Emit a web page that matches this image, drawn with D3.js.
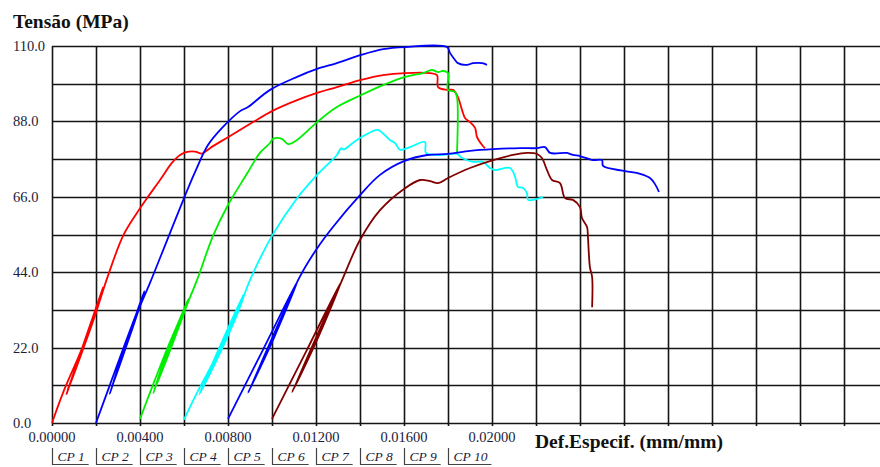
<!DOCTYPE html>
<html>
<head>
<meta charset="utf-8">
<script src="https://cdn.jsdelivr.net/npm/d3@7"></script>
<style>
  html, body { margin: 0; padding: 0; background: #fff; }
  svg { display: block; }
</style>
</head>
<body>
<svg id="chart" width="880" height="467"></svg>
<script>
// ---------- DATA (strain mm/mm, stress MPa) ----------
const legendLabels = ["CP 1", "CP 2", "CP 3", "CP 4", "CP 5", "CP 6", "CP 7", "CP 8", "CP 9", "CP 10"];
const xTickValues = [0, 0.004, 0.008, 0.012, 0.016, 0.020];
const xTickLabels = ["0.00000", "0.00400", "0.00800", "0.01200", "0.01600", "0.02000"];
const yTickValues = [0, 22, 44, 66, 88, 110];
const yTickLabels = ["0.0", "22.0", "44.0", "66.0", "88.0", "110.0"];
const seriesColors = ["#ff0000", "#0000ff", "#00ee00", "#00ffff", "#0000ff", "#800000"];

const cp1 = [
  [0, 0], [0.0005, 8.8], [0.00135, 21.6], [0.00195, 32.4], [0.00232, 39.5],
  [0.00066, 8.4], [0.0014, 21.3], [0.002, 32.2], [0.00234, 39.2],
  [0.0007, 9.5], [0.00142, 22.0], [0.00202, 32.8], [0.00218, 35.9], [0.00252, 42.5],
  [0.00323, 54.6], [0.00386, 61.3], [0.00432, 65.6], [0.00491, 70.9], [0.00545, 75.9],
  [0.00582, 78.2], [0.00614, 79.1], [0.0065, 79.2], [0.0068, 78.6], [0.00695, 79.1],
  [0.00718, 80.2], [0.008, 83.4], [0.00914, 87.8], [0.01, 91.0], [0.01114, 94.2],
  [0.01205, 96.3], [0.01295, 98.0], [0.01405, 100.1], [0.01505, 101.5], [0.01605, 102.1],
  [0.01718, 102.1], [0.0175, 101.5], [0.01755, 98.0], [0.01795, 97.2], [0.01823, 97.2],
  [0.01845, 95.1], [0.01864, 91.3], [0.01877, 89.0], [0.019, 87.8], [0.01923, 86.1],
  [0.01932, 83.4], [0.01955, 81.1], [0.01968, 80.2]
];
const cp2 = [
  [0.002, 0], [0.0025, 8.8], [0.00323, 21.6], [0.00386, 32.4], [0.0042, 38.5],
  [0.00262, 8.4], [0.00328, 21.3], [0.0039, 32.3], [0.00422, 38.2],
  [0.00268, 9.5], [0.0033, 22.0], [0.00392, 32.8], [0.00445, 40.8],
  [0.00523, 53.3], [0.006, 65.6], [0.0065, 73.2], [0.00709, 81.1], [0.00773, 86.1],
  [0.00855, 91.0], [0.00891, 92.2], [0.00991, 97.2],
  [0.01114, 101.0], [0.01205, 103.3], [0.01295, 105.0], [0.01405, 107.4], [0.01505, 109.1],
  [0.01605, 109.7], [0.01795, 109.7], [0.01809, 108.0], [0.01832, 105.9], [0.01845, 105.0],
  [0.01886, 104.5], [0.01914, 105.0], [0.01955, 105.0], [0.01977, 104.5]
];
const cp3 = [
  [0.004, 1.2], [0.00445, 8.8], [0.00523, 21.6], [0.00595, 32.4], [0.0062, 36.2],
  [0.0046, 8.6], [0.00528, 21.3], [0.006, 32.3], [0.00623, 35.9],
  [0.00466, 9.6], [0.0053, 22.0], [0.00602, 32.8], [0.00659, 41.7],
  [0.00732, 54.6], [0.008, 63.6], [0.00886, 72.7], [0.00945, 78.8], [0.00991, 81.7],
  [0.01005, 82.9], [0.01045, 82.9], [0.01073, 81.4], [0.01114, 82.6], [0.01205, 87.8],
  [0.01295, 92.2], [0.01405, 95.7], [0.01505, 98.6], [0.01605, 101.0], [0.01686, 102.1],
  [0.01727, 103.0], [0.01755, 102.4], [0.01777, 102.7], [0.018, 102.1], [0.018, 97.2],
  [0.01832, 96.6], [0.01841, 95.1], [0.01841, 78.8]
];
const cp4 = [
  [0.006, 1.0], [0.00659, 8.8], [0.00764, 21.6], [0.00841, 32.4], [0.0087, 37.5],
  [0.0067, 8.4], [0.0077, 21.3], [0.00845, 32.3], [0.00873, 37.2],
  [0.00676, 9.5], [0.00772, 22.0], [0.00847, 32.8], [0.009, 41.7],
  [0.01, 54.6], [0.01114, 65.6], [0.01205, 72.4], [0.01295, 78.2], [0.01315, 80.2],
  [0.01325, 79.8], [0.01386, 82.6], [0.01477, 85.5], [0.01491, 85.2], [0.01536, 82.6],
  [0.01559, 81.7], [0.01582, 79.7], [0.01627, 80.5], [0.01695, 82.0], [0.017, 78.8],
  [0.01764, 78.2], [0.01841, 78.5], [0.01864, 77.3], [0.01914, 76.2], [0.01959, 76.2],
  [0.01991, 74.4], [0.02014, 73.8], [0.02082, 74.4], [0.02105, 71.8], [0.02118, 68.9],
  [0.02141, 68.6], [0.02159, 67.1], [0.02164, 65.1], [0.02205, 65.4], [0.02232, 65.9]
];
const cp5 = [
  [0.008, 1.2], [0.0096, 21.5], [0.01118, 41.7],
  [0.00891, 8.8], [0.0101, 25.0], [0.0112, 41.9],
  [0.00897, 9.6], [0.01013, 25.6], [0.01122, 42.1],
  [0.012, 50.5], [0.01277, 57.2], [0.014, 66.5], [0.01491, 72.4], [0.016, 76.4],
  [0.01705, 78.2], [0.018, 78.5], [0.019, 79.4], [0.02005, 79.9], [0.02127, 80.2],
  [0.02205, 80.2], [0.02241, 80.5], [0.02264, 78.8], [0.02341, 78.8], [0.02368, 78.2],
  [0.024, 77.9], [0.02459, 76.7], [0.025, 76.7], [0.02505, 75.0], [0.02605, 73.5],
  [0.02673, 72.7], [0.02718, 71.5], [0.02741, 69.7], [0.02759, 67.4]
];
const cp6 = [
  [0.01, 1.2], [0.0116, 21.5], [0.01318, 41.7],
  [0.01091, 9.0], [0.0121, 25.0], [0.0132, 42.0],
  [0.01097, 9.8], [0.01213, 25.6], [0.01322, 42.2],
  [0.014, 53.4], [0.01491, 62.1], [0.016, 68.3], [0.01673, 70.9], [0.01718, 70.6],
  [0.01755, 70.0], [0.018, 71.5], [0.019, 74.4], [0.02005, 76.7], [0.02095, 78.2],
  [0.02159, 78.8], [0.02205, 78.5], [0.02227, 77.3], [0.0225, 73.8], [0.02273, 70.9],
  [0.02309, 70.0], [0.02332, 65.6], [0.02368, 65.1], [0.024, 63.0], [0.02409, 59.8],
  [0.02432, 57.2], [0.02436, 54.3], [0.02445, 45.5], [0.02455, 42.6], [0.02455, 33.8]
];
const seriesData = [cp1, cp2, cp3, cp4, cp5, cp6];

// ---------- LAYOUT ----------
const svg = d3.select("#chart");
const plotLeft = 52, plotTop = 46, plotBottom = 423, plotRight = 880;
const pxPerStep = 44, xStep = 0.002;
const xMax = (plotRight - plotLeft) / pxPerStep * xStep;

const x = d3.scaleLinear().domain([0, xMax]).range([plotLeft, plotRight]);
const y = d3.scaleLinear().domain([0, 110]).range([plotBottom, plotTop]);

const gridColor = "#151515";
const textColor = "#1b1b3a";
const serif = "'Liberation Serif', 'Times New Roman', serif";

// grid
const grid = svg.append("g");
const xGridVals = d3.range(0, xMax + 1e-9, xStep);
grid.selectAll("line.v").data(xGridVals).join("line")
  .attr("x1", d => Math.round(x(d)) + 0.5).attr("x2", d => Math.round(x(d)) + 0.5)
  .attr("y1", plotTop).attr("y2", plotBottom + 3)
  .attr("stroke", gridColor).attr("stroke-width", 1.6);
const yGridVals = d3.range(0, 110 + 1e-9, 11);
grid.selectAll("line.h").data(yGridVals).join("line")
  .attr("x1", plotLeft).attr("x2", plotRight)
  .attr("y1", d => Math.round(y(d)) + 0.5).attr("y2", d => Math.round(y(d)) + 0.5)
  .attr("stroke", gridColor).attr("stroke-width", 1.6);

// y tick labels (left aligned)
svg.append("g").selectAll("text").data(yTickValues).join("text")
  .attr("x", 13).attr("y", d => y(d)).attr("dy", "0.35em")
  .attr("font-family", serif).attr("font-size", 14.5).attr("fill", textColor)
  .text((d, i) => yTickLabels[i]);

// x tick labels
svg.append("g").selectAll("text").data(xTickValues).join("text")
  .attr("x", d => x(d)).attr("y", 437).attr("dy", "0.35em")
  .attr("text-anchor", "middle")
  .attr("font-family", serif).attr("font-size", 14.5).attr("fill", textColor)
  .text((d, i) => xTickLabels[i]);

// axis titles
svg.append("text").attr("x", 13).attr("y", 28)
  .attr("font-family", serif).attr("font-size", 19.5).attr("font-weight", "bold")
  .attr("fill", "#111").text("Tensão (MPa)");
svg.append("text").attr("x", 535).attr("y", 447.5)
  .attr("font-family", serif).attr("font-size", 19.5).attr("font-weight", "bold")
  .attr("fill", "#111").text("Def.Especif. (mm/mm)");

// curves
const line = d3.line().x(d => x(d[0])).y(d => y(d[1])).curve(d3.curveCatmullRom.alpha(0.5));
const curves = svg.append("g");
seriesData.forEach((s, i) => {
  curves.append("path").datum(s)
    .attr("d", line)
    .attr("fill", "none")
    .attr("stroke", seriesColors[i])
    .attr("stroke-width", 1.8)
    .attr("stroke-linejoin", "round");
});

// legend
const leg = svg.append("g");
legendLabels.forEach((lab, i) => {
  const lx = Math.round(x(i * xStep)) + 0.5;
  const t = leg.append("text").attr("x", lx + 5).attr("y", 461)
    .attr("font-family", serif).attr("font-size", 13.5).attr("font-style", "italic")
    .attr("fill", textColor).text(lab);
  const w = t.node().getComputedTextLength();
  leg.append("line").attr("x1", lx).attr("x2", lx).attr("y1", 448).attr("y2", 465)
    .attr("stroke", "#444").attr("stroke-width", 1.2);
  leg.append("line").attr("x1", lx).attr("x2", lx + w + 9).attr("y1", 464.5).attr("y2", 464.5)
    .attr("stroke", "#444").attr("stroke-width", 1.2);
});
</script>
</body>
</html>
